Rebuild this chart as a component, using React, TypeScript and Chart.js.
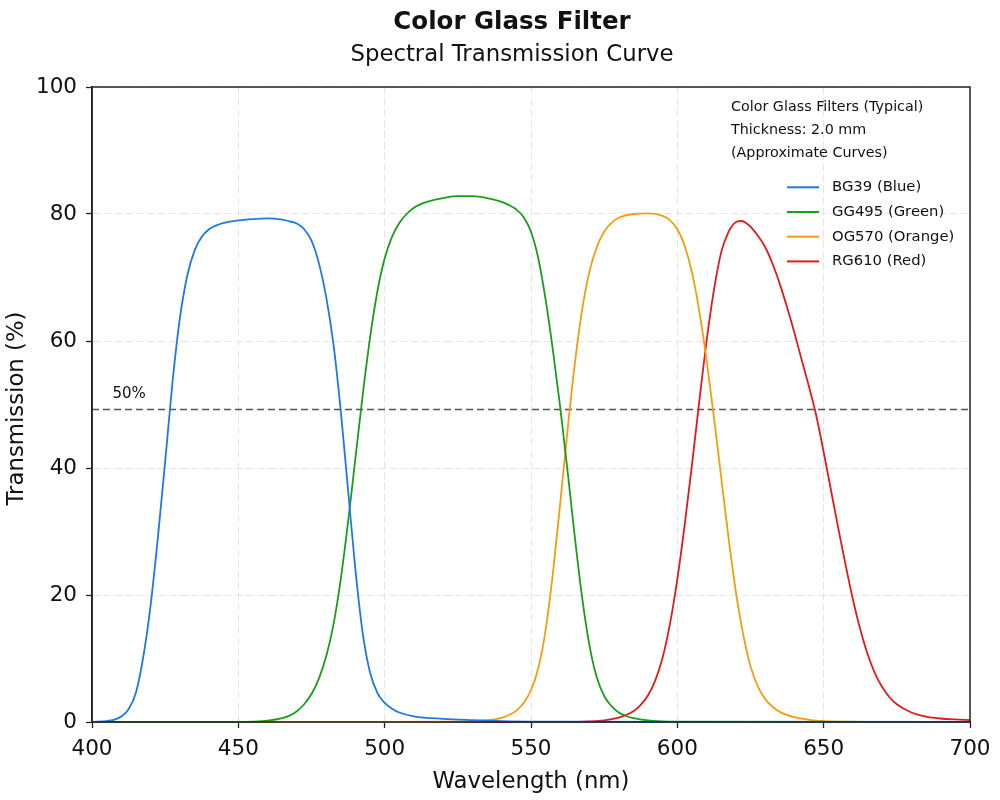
import { useEffect, useRef } from 'react';
import Chart from 'chart.js/auto';

const FONT = '"DejaVu Sans", Verdana, sans-serif';

const TITLE = 'Color Glass Filter';
const SUBTITLE = 'Spectral Transmission Curve';
const X_LABEL = 'Wavelength (nm)';
const Y_LABEL = 'Transmission (%)';
const NOTE_LINES = [
  'Color Glass Filters (Typical)',
  'Thickness: 2.0 mm',
  '(Approximate Curves)',
];

const X_MIN = 400;
const X_MAX = 700;
const X_STEP = 50;
const Y_MIN = 0;
const Y_MAX = 100;
const Y_STEP = 20;

// dashed reference line (sits a touch under 50 in the source)
const HALF_LEVEL = 49.2;
const HALF_LABEL = '50%';

const SERIES_NAMES = ['BG39 (Blue)', 'GG495 (Green)', 'OG570 (Orange)', 'RG610 (Red)'];
const SERIES_COLORS = ['#1f78e6', '#1a9e1a', '#f59c0f', '#e01b1b'];

// nm / %
const BG39_NM = [
  400, 405, 407.5, 410, 412.5, 415, 417.5, 420, 422.5, 425, 427.5, 430, 432.5, 435, 437.5, 440,
  442.5, 445, 450, 455, 460, 465, 467.5, 470, 472.5, 475, 477.5, 480, 482.5, 485, 487.5, 490,
  492.5, 495, 497.5, 500, 502.5, 505, 510, 520, 530, 540, 560, 600, 650, 700,
];
const BG39_T = [
  0, 0.15, 0.35, 0.85, 2, 4.6, 10.2, 18.3, 29, 41, 53.5, 63.5, 70.2, 74.2, 76.4, 77.6,
  78.2, 78.6, 79, 79.2, 79.3, 79.1, 78.85, 78.5, 77.6, 75.8, 72.3, 67, 59.5, 49, 36.5, 24,
  14, 7.8, 4.6, 3, 2.1, 1.5, 0.9, 0.5, 0.3, 0.15, 0.05, 0, 0, 0,
];

const GG495_NM = [
  400, 450, 455, 460, 465, 467.5, 470, 472.5, 475, 477.5, 480, 482.5, 485, 487.5, 490, 492.5,
  495, 497.5, 500, 502.5, 505, 507.5, 510, 512.5, 515, 520, 525, 530, 535, 540, 542.5, 545,
  547.5, 550, 552.5, 555, 557.5, 560, 562.5, 565, 567.5, 570, 572.5, 575, 577.5, 580, 582.5, 585,
  590, 595, 600, 700,
];
const GG495_T = [
  0, 0, 0.05, 0.2, 0.6, 1, 1.7, 2.8, 4.4, 6.8, 10.3, 15.3, 22.5, 31.5, 41.5, 51.5,
  60.5, 67.8, 73, 76.4, 78.6, 80, 81, 81.6, 82, 82.5, 82.8, 82.8, 82.5, 81.9, 81.4, 80.7,
  79.5, 77.2, 73, 66.5, 58.5, 49.5, 39.5, 29, 19.5, 12, 7, 4.1, 2.5, 1.5, 0.95, 0.6,
  0.25, 0.1, 0.04, 0,
];

const OG570_NM = [
  400, 500, 520, 530, 535, 537.5, 540, 542.5, 545, 547.5, 550, 552.5, 555, 557.5, 560, 562.5,
  565, 567.5, 570, 572.5, 575, 577.5, 580, 585, 590, 595, 597.5, 600, 602.5, 605, 607.5, 610,
  612.5, 615, 617.5, 620, 622.5, 625, 627.5, 630, 632.5, 635, 640, 645, 650, 660, 670, 700,
];
const OG570_T = [
  0, 0, 0.04, 0.1, 0.25, 0.4, 0.65, 1.1, 1.8, 3, 5, 8.5, 14.5, 23.5, 34.5, 46,
  56.5, 65, 71, 74.8, 77.2, 78.6, 79.4, 80, 80.1, 79.7, 79, 77.6, 75, 70.8, 64.7, 57,
  48, 38.5, 29, 20.5, 13.8, 8.8, 5.6, 3.6, 2.4, 1.6, 0.75, 0.35, 0.15, 0.05, 0, 0,
];

const RG610_NM = [
  400, 560, 565, 570, 575, 580, 582.5, 585, 587.5, 590, 592.5, 595, 597.5, 600, 602.5, 605,
  607.5, 610, 612.5, 615, 617.5, 619, 620.5, 622, 623.5, 625, 627.5, 630, 632.5, 635, 637.5, 640,
  642.5, 645, 647.5, 650, 652.5, 655, 657.5, 660, 662.5, 665, 667.5, 670, 672.5, 675, 680, 685,
  690, 695, 700,
];
const RG610_T = [
  0, 0, 0.02, 0.08, 0.25, 0.7, 1.1, 1.7, 2.7, 4.2, 6.6, 10.2, 15.5, 22.5, 31, 40.5,
  50.5, 60, 68, 74, 77.2, 78.3, 78.85, 78.9, 78.6, 78, 76.6, 74.8, 72.2, 69, 65.3, 61.3,
  57, 52.8, 48.2, 42.5, 36.5, 30.5, 24.7, 19.3, 14.6, 10.7, 7.7, 5.5, 3.9, 2.8, 1.5, 0.85,
  0.55, 0.4, 0.3,
];

const SERIES_NM = [BG39_NM, GG495_NM, OG570_NM, RG610_NM];
const SERIES_T = [BG39_T, GG495_T, OG570_T, RG610_T];

const decor = {
  id: 'decor',
  afterDatasetsDraw(chart: any) {
    const { ctx, chartArea: a, scales } = chart;
    ctx.save();
    // frame
    ctx.strokeStyle = '#222';
    ctx.lineWidth = 1.5;
    ctx.strokeRect(a.left, a.top, a.right - a.left, a.bottom - a.top);

    ctx.fillStyle = '#111';
    // titles
    ctx.textAlign = 'center';
    ctx.textBaseline = 'middle';
    ctx.font = `bold 24.5px ${FONT}`;
    ctx.fillText(TITLE, 512, 23);
    ctx.font = `22.8px ${FONT}`;
    ctx.fillText(SUBTITLE, 512, 55);

    // axis titles
    ctx.font = `22.8px ${FONT}`;
    ctx.fillText(X_LABEL, (a.left + a.right) / 2, 782);
    ctx.save();
    ctx.translate(17, (a.top + a.bottom) / 2 + 4);
    ctx.rotate(-Math.PI / 2);
    ctx.fillText(Y_LABEL, 0, 0);
    ctx.restore();

    // 50% label
    ctx.textAlign = 'left';
    ctx.textBaseline = 'middle';
    ctx.font = `15px ${FONT}`;
    ctx.fillText(HALF_LABEL, scales.x.getPixelForValue(407), scales.y.getPixelForValue(HALF_LEVEL) - 15.5);

    // legend note
    ctx.font = `14.3px ${FONT}`;
    NOTE_LINES.forEach((t, i) => {
      ctx.fillText(t, 731, 107 + i * 23.3);
    });
    ctx.font = `14.8px ${FONT}`;
    SERIES_NAMES.forEach((name, i) => {
      const y = 187.3 + i * 24.7;
      ctx.strokeStyle = SERIES_COLORS[i];
      ctx.lineWidth = 2;
      ctx.beginPath();
      ctx.moveTo(787, y);
      ctx.lineTo(819, y);
      ctx.stroke();
      ctx.fillStyle = '#111';
      ctx.fillText(name, 832, y);
    });
    ctx.restore();
  },
};

export default function App() {
  const chartRef = useRef<HTMLCanvasElement>(null);

  useEffect(() => {
    if (!chartRef.current) return;
    document.body.style.margin = '0';
    const datasets: any[] = SERIES_NAMES.map((name, i) => ({
      label: name,
      data: SERIES_NM[i].map((x, j) => ({ x, y: SERIES_T[i][j] })),
      borderColor: SERIES_COLORS[i],
      borderWidth: 1.8,
      cubicInterpolationMode: 'monotone',
      pointRadius: 0,
      clip: 2,
    }));
    datasets.push({
      label: 'half',
      data: [
        { x: X_MIN, y: HALF_LEVEL },
        { x: X_MAX, y: HALF_LEVEL },
      ],
      borderColor: '#555',
      borderWidth: 1.5,
      borderDash: [7, 4],
      pointRadius: 0,
    });

    const axisTicks = { color: '#111', font: { family: FONT, size: 21.5 } };
    const grid = {
      color: '#e4e4e4',
      lineWidth: 1,
      tickLength: 6,
      tickColor: '#222',
      tickWidth: 1.3,
    };
    const border = { display: true, color: '#222', width: 1.5, dash: [7, 4] };

    const chart = new Chart(chartRef.current, {
      type: 'line',
      data: { datasets },
      options: {
        animation: false,
        responsive: true,
        maintainAspectRatio: false,
        layout: { padding: { top: 87, right: 30, left: 0, bottom: 0 } },
        plugins: {
          legend: { display: false },
          title: { display: false },
          tooltip: { enabled: false },
        },
        scales: {
          x: {
            type: 'linear',
            min: X_MIN,
            max: X_MAX,
            ticks: { ...axisTicks, stepSize: X_STEP, padding: 9, maxRotation: 0 },
            grid,
            border,
            afterFit: (s: any) => {
              s.height = 78;
            },
          },
          y: {
            min: Y_MIN,
            max: Y_MAX,
            ticks: { ...axisTicks, stepSize: Y_STEP, padding: 9 },
            grid,
            border,
            afterFit: (s: any) => {
              s.width = 92;
            },
          },
        },
      },
      plugins: [decor],
    });

    return () => chart.destroy();
  }, []);

  return (
    <div style={{ position: 'fixed', left: 0, top: 0, width: 1000, height: 800, background: '#fff' }}>
      <canvas ref={chartRef} />
    </div>
  );
}
